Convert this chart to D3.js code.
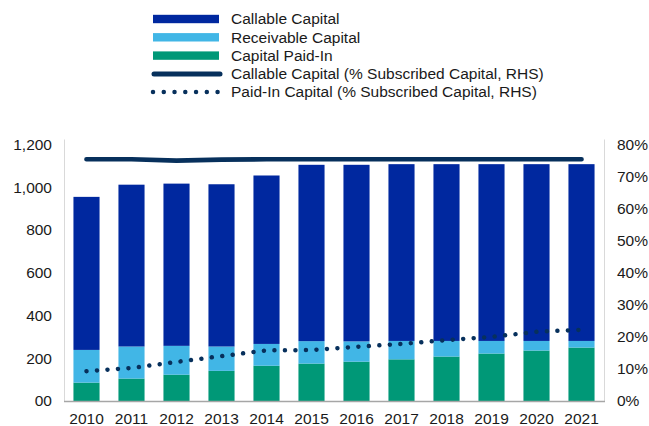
<!DOCTYPE html>
<html>
<head>
<meta charset="utf-8">
<script src="https://cdn.jsdelivr.net/npm/d3@7"></script>
<style>
  html, body { margin: 0; padding: 0; background: #fff; }
  svg { display: block; font-family: "Liberation Sans", Arial, sans-serif; }
</style>
</head>
<body>
<svg id="chart" width="649" height="426"></svg>
<script>
// ---- data ----
const years = ["2010","2011","2012","2013","2014","2015","2016","2017","2018","2019","2020","2021"];
const paidIn     = [86, 105, 123, 141, 165, 175, 184, 195, 208, 222, 236, 250];
const receivable = [153, 150, 135, 114, 102, 105, 95, 86, 73, 59, 45, 31];
const callable   = [716, 757, 759, 759, 788, 825, 826, 827, 827, 827, 827, 827];
const callablePct = [75.4, 75.4, 75.0, 75.3, 75.4, 75.4, 75.4, 75.4, 75.4, 75.4, 75.4, 75.4];
const paidInPct   = [9.3, 10.3, 12.2, 14.0, 15.8, 15.9, 16.9, 17.8, 19.0, 20.0, 21.6, 22.2];
const leftTicks  = [0, 200, 400, 600, 800, 1000, 1200];
const leftTickLabels = ["00", "200", "400", "600", "800", "1,000", "1,200"];
const rightTicks = [0, 10, 20, 30, 40, 50, 60, 70, 80];
const rightTickLabels = ["0%", "10%", "20%", "30%", "40%", "50%", "60%", "70%", "80%"];
const legendLabels = ["Callable Capital", "Receivable Capital", "Capital Paid-In",
  "Callable Capital (% Subscribed Capital, RHS)", "Paid-In Capital (% Subscribed Capital, RHS)"];

const colors = { callable: "#00289f", receivable: "#41b6e6", paidIn: "#009877", line: "#07305c" };

const svg = d3.select("#chart");
const plot = { left: 64, right: 604, top: 144.5, bottom: 401 };
const FS = "15.5px";

const x = d3.scaleBand().domain(years).range([plot.left, plot.right]).paddingInner(0.42).paddingOuter(0.21);
const yL = d3.scaleLinear().domain([0, 1200]).range([plot.bottom, plot.top]);
const yR = d3.scaleLinear().domain([0, 80]).range([plot.bottom, plot.top]);

// stacked data
const rows = years.map((yr, i) => ({ year: yr, paidIn: paidIn[i], receivable: receivable[i], callable: callable[i] }));
const stack = d3.stack().keys(["paidIn", "receivable", "callable"])(rows);

// axis lines
svg.append("line").attr("x1", plot.left + 0.5).attr("x2", plot.left + 0.5)
  .attr("y1", plot.top - 5).attr("y2", plot.bottom).attr("stroke", "#d9d9d9").attr("stroke-width", 1);
svg.append("line").attr("x1", plot.right + 0.5).attr("x2", plot.right + 0.5)
  .attr("y1", plot.top - 5).attr("y2", plot.bottom).attr("stroke", "#d9d9d9").attr("stroke-width", 1);

// bars
svg.append("g").selectAll("g").data(stack).join("g")
  .attr("fill", d => colors[d.key])
  .selectAll("rect").data(d => d).join("rect")
  .attr("x", d => x(d.data.year))
  .attr("width", x.bandwidth())
  .attr("y", d => yL(d[1]))
  .attr("height", d => yL(d[0]) - yL(d[1]));

// bottom axis line
svg.append("line").attr("x1", plot.left).attr("x2", plot.right + 1)
  .attr("y1", plot.bottom + 0.5).attr("y2", plot.bottom + 0.5).attr("stroke", "#a6a6a6").attr("stroke-width", 1.5);

// left axis
const axL = d3.axisLeft(yL).tickValues(leftTicks).tickSize(0).tickPadding(12)
  .tickFormat((d, i) => leftTickLabels[i]);
svg.append("g").attr("transform", `translate(${plot.left},0)`).call(axL)
  .call(g => g.select(".domain").remove())
  .selectAll("text").attr("font-size", FS).attr("font-family", "Liberation Sans, Arial, sans-serif").attr("fill", "#1a1a1a");

// right axis
const axR = d3.axisRight(yR).tickValues(rightTicks).tickSize(0).tickPadding(13)
  .tickFormat((d, i) => rightTickLabels[i]);
svg.append("g").attr("transform", `translate(${plot.right},0)`).call(axR)
  .call(g => g.select(".domain").remove())
  .selectAll("text").attr("font-size", FS).attr("font-family", "Liberation Sans, Arial, sans-serif").attr("fill", "#1a1a1a");

// bottom axis
const axB = d3.axisBottom(x).tickSize(0).tickPadding(12);
svg.append("g").attr("transform", `translate(0,${plot.bottom})`).call(axB)
  .call(g => g.select(".domain").remove())
  .selectAll("text").attr("font-size", FS).attr("font-family", "Liberation Sans, Arial, sans-serif").attr("fill", "#1a1a1a");

// lines
const cx = yr => x(yr) + x.bandwidth() / 2;
const lineGen = d3.line().x((d, i) => cx(years[i])).y(d => yR(d));
svg.append("path").datum(callablePct).attr("d", lineGen)
  .attr("fill", "none").attr("stroke", colors.line).attr("stroke-width", 4.7)
  .attr("stroke-linecap", "round").attr("stroke-linejoin", "round");

svg.append("path").datum(paidInPct).attr("d", lineGen)
  .attr("fill", "none").attr("stroke", colors.line).attr("stroke-width", 4.5)
  .attr("stroke-linecap", "round").attr("stroke-dasharray", "0.01 10.5");

// legend
const lg = svg.append("g");
const lgX0 = 153, lgX1 = 219, textX = 231;
const rowsY = [19, 37.3, 55.6, 74, 92];
const swatchKeys = ["callable", "receivable", "paidIn"];
swatchKeys.forEach((k, i) => {
  lg.append("rect").attr("x", lgX0).attr("y", rowsY[i] - 4.2).attr("width", lgX1 - lgX0).attr("height", 8.4).attr("fill", colors[k]);
});
lg.append("line").attr("x1", lgX0 + 1).attr("x2", lgX1 + 1).attr("y1", rowsY[3]).attr("y2", rowsY[3])
  .attr("stroke", colors.line).attr("stroke-width", 5).attr("stroke-linecap", "round");
lg.append("line").attr("x1", lgX0).attr("x2", lgX1 + 0.5).attr("y1", rowsY[4]).attr("y2", rowsY[4])
  .attr("stroke", colors.line).attr("stroke-width", 4.5).attr("stroke-linecap", "round").attr("stroke-dasharray", "0.01 10.75");
legendLabels.forEach((t, i) => {
  lg.append("text").attr("x", textX).attr("y", rowsY[i]).attr("dy", "0.35em")
    .attr("font-size", FS).attr("fill", "#1a1a1a").text(t);
});
</script>
</body>
</html>
